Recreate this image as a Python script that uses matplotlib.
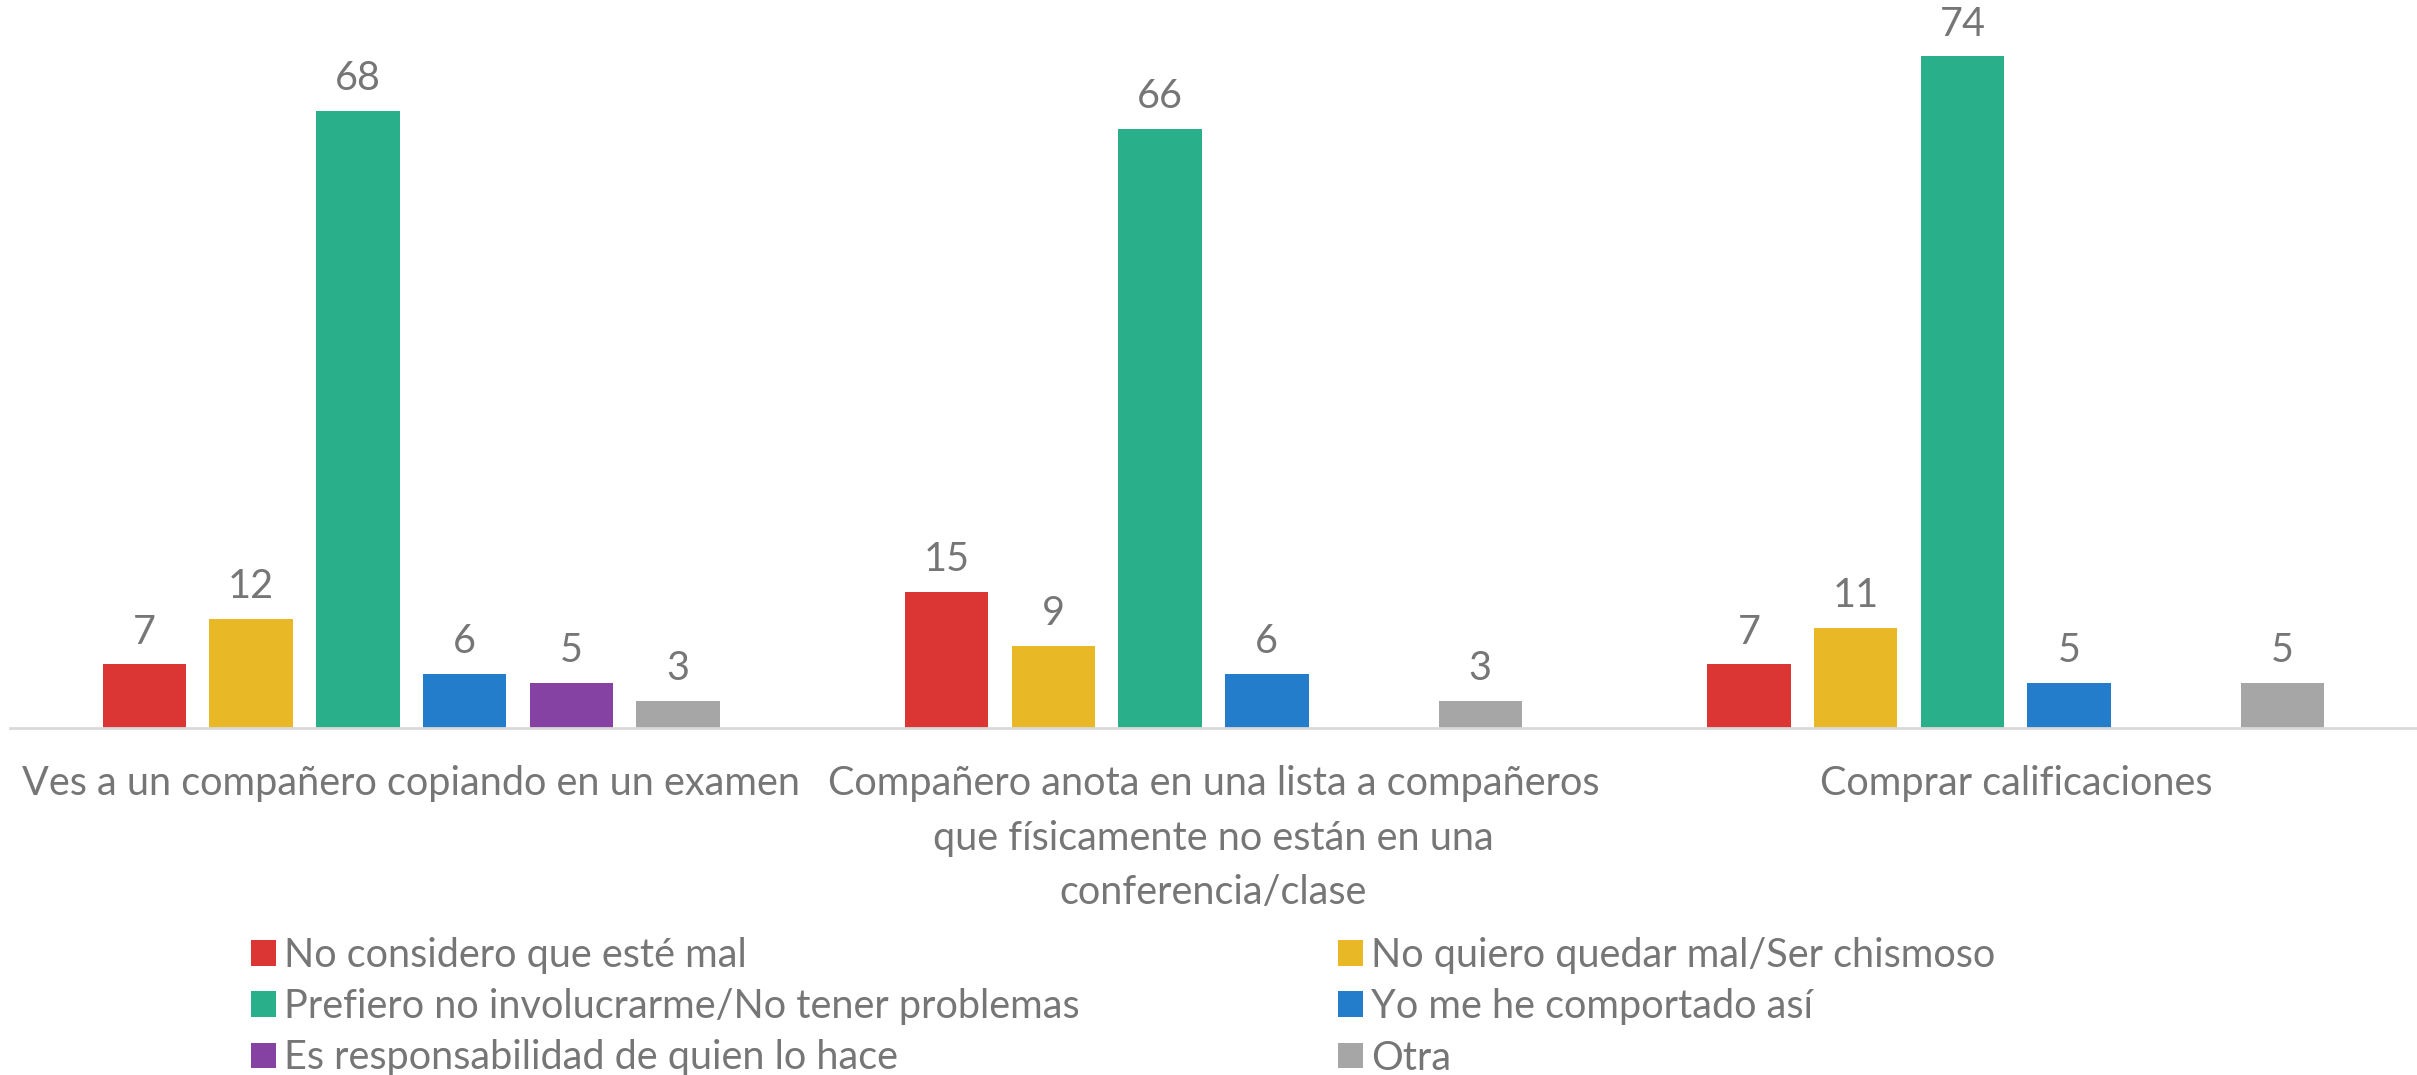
import matplotlib
matplotlib.use("Agg")
import matplotlib.pyplot as plt
import numpy as np
from matplotlib.patches import Patch

categories = [
    "Ves a un compañero copiando en un examen",
    "Compañero anota en una lista a compañeros\nque físicamente no están en una\nconferencia/clase",
    "Comprar calificaciones",
]
series_names = [
    "No considero que esté mal",
    "No quiero quedar mal/Ser chismoso",
    "Prefiero no involucrarme/No tener problemas",
    "Yo me he comportado así",
    "Es responsabilidad de quien lo hace",
    "Otra",
]
no_considero = [7, 15, 7]
no_quiero = [12, 9, 11]
prefiero = [68, 66, 74]
comportado = [6, 6, 5]
responsabilidad = [5, np.nan, np.nan]
otra = [3, 3, 5]
series_values = [no_considero, no_quiero, prefiero, comportado, responsabilidad, otra]
colors = ["#DC3634", "#E9B826", "#29B08A", "#247DCA", "#8642A3", "#A6A6A6"]

TXT = "#767676"
FONT = "Lato"
FS = 28.5

W, H = 2417, 1075
fig = plt.figure(figsize=(W / 100, H / 100), dpi=100)
ax = fig.add_axes([10 / W, (H - 728) / H, (W - 10) / W, 726 / H])

n = len(series_values)
step = 0.133
width = 0.104
x = np.arange(len(categories))
for i, (vals, c) in enumerate(zip(series_values, colors)):
    pos = x + (i - (n - 1) / 2) * step
    ax.bar(pos, vals, width=width, color=c, zorder=2)
    for xi, v in zip(pos, vals):
        if not np.isnan(v):
            ax.annotate(f"{int(v)}", (xi, v), xytext=(0, 10), textcoords="offset points",
                        ha="center", va="bottom", fontsize=FS, color=TXT, family=FONT)

ax.set_xlim(-0.5, 2.5)
ax.set_ylim(0, 80)
ax.set_yticks([])
ax.set_xticks(x)
ax.set_xticklabels(categories, fontsize=FS, color=TXT, family=FONT, linespacing=1.57)
ax.tick_params(axis="x", length=0, pad=27)
for s in ["top", "right", "left"]:
    ax.spines[s].set_visible(False)
ax.spines["bottom"].set_color("#D9D9D9")
ax.spines["bottom"].set_linewidth(2)

handles = [Patch(facecolor=c, edgecolor="none") for c in colors]
leg_kw = dict(frameon=False, handlelength=0.62, handleheight=0.62,
              handletextpad=0.22, labelspacing=0.36, loc="upper left", borderpad=0,
              borderaxespad=0, prop={"family": FONT, "size": FS})
l1 = fig.legend([handles[0], handles[2], handles[4]],
                [series_names[0], series_names[2], series_names[4]],
                bbox_to_anchor=(251 / W, (H - 937) / H), **leg_kw)
l2 = fig.legend([handles[1], handles[3], handles[5]],
                [series_names[1], series_names[3], series_names[5]],
                bbox_to_anchor=(1338 / W, (H - 937) / H), **leg_kw)
for lg in (l1, l2):
    for t in lg.get_texts():
        t.set_color(TXT)

fig.savefig("out.png", dpi=100)
